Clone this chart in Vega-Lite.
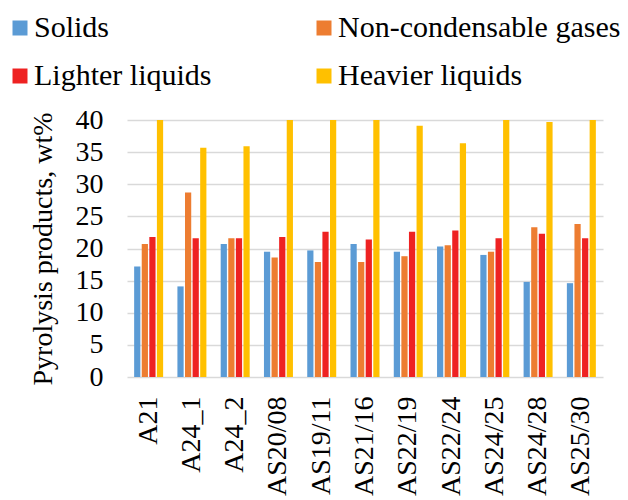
{
  "$schema": "https://vega.github.io/schema/vega-lite/v6.json",
  "autosize": {"type": "none"},
  "width": 476,
  "height": 257,
  "padding": {"left": 127, "top": 120, "right": 25, "bottom": 123},
  "background": "white",
  "config": {
    "font": "Liberation Serif",
    "view": {"stroke": null}
  },
  "data": {
    "values": [
      {"sample": "A21", "product": "Solids", "value": 17.2},
      {"sample": "A21", "product": "Non-condensable gases", "value": 20.7},
      {"sample": "A21", "product": "Lighter liquids", "value": 21.8},
      {"sample": "A21", "product": "Heavier liquids", "value": 40},
      {"sample": "A24_1", "product": "Solids", "value": 14.1},
      {"sample": "A24_1", "product": "Non-condensable gases", "value": 28.7},
      {"sample": "A24_1", "product": "Lighter liquids", "value": 21.6},
      {"sample": "A24_1", "product": "Heavier liquids", "value": 35.7},
      {"sample": "A24_2", "product": "Solids", "value": 20.7},
      {"sample": "A24_2", "product": "Non-condensable gases", "value": 21.6},
      {"sample": "A24_2", "product": "Lighter liquids", "value": 21.6},
      {"sample": "A24_2", "product": "Heavier liquids", "value": 35.9},
      {"sample": "AS20/08", "product": "Solids", "value": 19.5},
      {"sample": "AS20/08", "product": "Non-condensable gases", "value": 18.6},
      {"sample": "AS20/08", "product": "Lighter liquids", "value": 21.8},
      {"sample": "AS20/08", "product": "Heavier liquids", "value": 40},
      {"sample": "AS19/11", "product": "Solids", "value": 19.7},
      {"sample": "AS19/11", "product": "Non-condensable gases", "value": 17.9},
      {"sample": "AS19/11", "product": "Lighter liquids", "value": 22.6},
      {"sample": "AS19/11", "product": "Heavier liquids", "value": 40},
      {"sample": "AS21/16", "product": "Solids", "value": 20.7},
      {"sample": "AS21/16", "product": "Non-condensable gases", "value": 17.9},
      {"sample": "AS21/16", "product": "Lighter liquids", "value": 21.4},
      {"sample": "AS21/16", "product": "Heavier liquids", "value": 40},
      {"sample": "AS22/19", "product": "Solids", "value": 19.5},
      {"sample": "AS22/19", "product": "Non-condensable gases", "value": 18.8},
      {"sample": "AS22/19", "product": "Lighter liquids", "value": 22.6},
      {"sample": "AS22/19", "product": "Heavier liquids", "value": 39.1},
      {"sample": "AS22/24", "product": "Solids", "value": 20.3},
      {"sample": "AS22/24", "product": "Non-condensable gases", "value": 20.5},
      {"sample": "AS22/24", "product": "Lighter liquids", "value": 22.8},
      {"sample": "AS22/24", "product": "Heavier liquids", "value": 36.4},
      {"sample": "AS24/25", "product": "Solids", "value": 19.0},
      {"sample": "AS24/25", "product": "Non-condensable gases", "value": 19.5},
      {"sample": "AS24/25", "product": "Lighter liquids", "value": 21.6},
      {"sample": "AS24/25", "product": "Heavier liquids", "value": 40},
      {"sample": "AS24/28", "product": "Solids", "value": 14.8},
      {"sample": "AS24/28", "product": "Non-condensable gases", "value": 23.3},
      {"sample": "AS24/28", "product": "Lighter liquids", "value": 22.3},
      {"sample": "AS24/28", "product": "Heavier liquids", "value": 39.7},
      {"sample": "AS25/30", "product": "Solids", "value": 14.6},
      {"sample": "AS25/30", "product": "Non-condensable gases", "value": 23.8},
      {"sample": "AS25/30", "product": "Lighter liquids", "value": 21.6},
      {"sample": "AS25/30", "product": "Heavier liquids", "value": 40}
    ]
  },
  "mark": {"type": "bar", "clip": true},
  "encoding": {
    "x": {
      "field": "sample",
      "type": "nominal",
      "sort": null,
      "scale": {"paddingInner": 0.33, "paddingOuter": 0.165},
      "axis": {
        "title": null,
        "labelAngle": -90,
        "labelFont": "Liberation Serif",
        "labelFontSize": 28,
        "labelColor": "black",
        "labelPadding": 19,
        "labelLimit": 200,
        "ticks": false,
        "domain": false,
        "grid": false
      }
    },
    "xOffset": {
      "field": "product",
      "type": "nominal",
      "sort": ["Solids", "Non-condensable gases", "Lighter liquids", "Heavier liquids"],
      "scale": {"paddingInner": 0.18, "paddingOuter": 0}
    },
    "y": {
      "field": "value",
      "type": "quantitative",
      "scale": {"domain": [0, 40], "nice": false},
      "axis": {
        "values": [0, 5, 10, 15, 20, 25, 30, 35, 40],
        "title": "Pyrolysis products, wt%",
        "titleFont": "Liberation Serif",
        "titleFontSize": 28,
        "titleFontWeight": "normal",
        "titleColor": "black",
        "titlePadding": 18,
        "labelFont": "Liberation Serif",
        "labelFontSize": 28,
        "labelColor": "black",
        "labelPadding": 24,
        "ticks": false,
        "domain": false,
        "grid": true,
        "gridColor": "#d9d9d9",
        "gridWidth": 1.5
      }
    },
    "color": {
      "field": "product",
      "type": "nominal",
      "sort": ["Solids", "Non-condensable gases", "Lighter liquids", "Heavier liquids"],
      "scale": {
        "domain": ["Solids", "Non-condensable gases", "Lighter liquids", "Heavier liquids"],
        "range": ["#5B9BD5", "#ED7D31", "#EE2222", "#FFC000"]
      },
      "legend": {
        "title": null,
        "orient": "none",
        "direction": "horizontal",
        "padding": 0,
        "legendX": -122,
        "legendY": -107,
        "columns": 2,
        "columnPadding": 97,
        "rowPadding": 18,
        "symbolType": "square",
        "symbolSize": 225,
        "symbolOffset": 0,
        "symbolStrokeWidth": 0,
        "labelOffset": -1,
        "labelFont": "Liberation Serif",
        "labelFontSize": 30,
        "labelColor": "black",
        "labelLimit": 400
      }
    }
  }
}
